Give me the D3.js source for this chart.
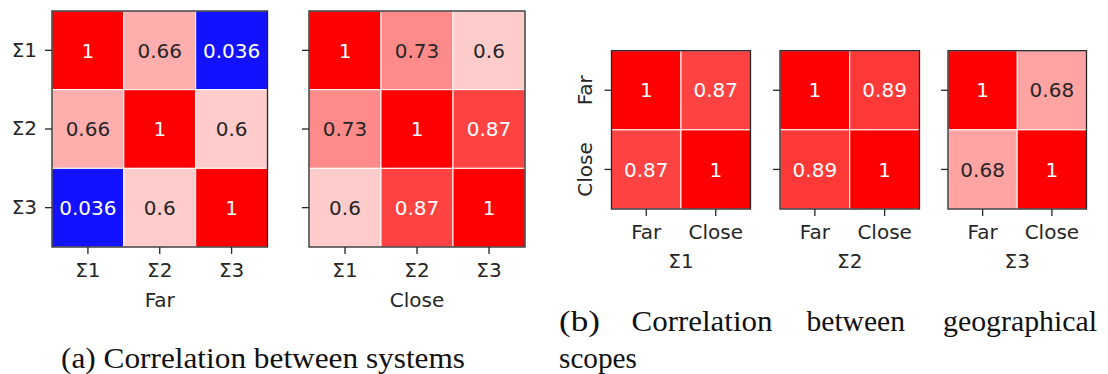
<!DOCTYPE html>
<html>
<head>
<meta charset="utf-8">
<script src="https://cdn.jsdelivr.net/npm/d3@7"></script>
<style>
  body { margin: 0; background: #fff; }
  svg { display: block; }
</style>
</head>
<body>
<svg id="chart" width="1108" height="374"></svg>
<script>
// Category labels
const systems = ["Σ1", "Σ2", "Σ3"];
const scopes = ["Far", "Close"];

// Correlation between systems, per geographical scope
const farCorr = [
  [1, 0.66, 0.036],
  [0.66, 1, 0.6],
  [0.036, 0.6, 1]
];
const closeCorr = [
  [1, 0.73, 0.6],
  [0.73, 1, 0.87],
  [0.6, 0.87, 1]
];

// Correlation between geographical scopes, per system
const sigma1Corr = [[1, 0.87], [0.87, 1]];
const sigma2Corr = [[1, 0.89], [0.89, 1]];
const sigma3Corr = [[1, 0.68], [0.68, 1]];

const FONT = "DejaVu Sans";
const INK = "#262626";
const svg = d3.select("#chart");

// Diverging blue-white-red colour map on [0, 1]
const color = d3.scaleLinear().domain([0, 0.5, 1]).range(["#0000ff", "#ffffff", "#ff0000"]);
const fmt = d3.format(".2~g");

function luminance(c) {
  const rgb = d3.rgb(c);
  const f = v => { v /= 255; return v <= 0.03928 ? v / 12.92 : Math.pow((v + 0.055) / 1.055, 2.4); };
  return 0.2126 * f(rgb.r) + 0.7152 * f(rgb.g) + 0.0722 * f(rgb.b);
}

const panels = [
  { values: farCorr,    labels: systems, title: "Far",   left: 52,    top: 11,   width: 215.5, height: 236,   yLabels: true,  rotateY: false },
  { values: closeCorr,  labels: systems, title: "Close", left: 309,   top: 11,   width: 216,   height: 236,   yLabels: false, rotateY: false },
  { values: sigma1Corr, labels: scopes,  title: "Σ1",    left: 611.5, top: 50.7, width: 139,   height: 158.3, yLabels: true,  rotateY: true },
  { values: sigma2Corr, labels: scopes,  title: "Σ2",    left: 780,   top: 50.7, width: 139.5, height: 158.3, yLabels: false, rotateY: false },
  { values: sigma3Corr, labels: scopes,  title: "Σ3",    left: 948,   top: 50.7, width: 138.5, height: 158.3, yLabels: false, rotateY: false }
];

panels.forEach(p => {
  const g = svg.append("g").attr("transform", `translate(${p.left},${p.top})`);
  const x = d3.scaleBand().domain(p.labels).range([0, p.width]);
  const y = d3.scaleBand().domain(p.labels).range([0, p.height]);

  const cells = [];
  p.values.forEach((row, i) => row.forEach((v, j) => cells.push({ r: p.labels[i], c: p.labels[j], v })));

  g.selectAll("rect.cell").data(cells).join("rect")
    .attr("class", "cell")
    .attr("x", d => x(d.c))
    .attr("y", d => y(d.r))
    .attr("width", x.bandwidth())
    .attr("height", y.bandwidth())
    .attr("fill", d => color(d.v))
    .attr("stroke", "#ffffff")
    .attr("stroke-width", 1);

  g.selectAll("text.annot").data(cells).join("text")
    .attr("class", "annot")
    .attr("x", d => x(d.c) + x.bandwidth() / 2)
    .attr("y", d => y(d.r) + y.bandwidth() / 2)
    .attr("dy", "0.36em")
    .attr("text-anchor", "middle")
    .attr("font-family", FONT)
    .attr("font-size", 20)
    .attr("fill", d => luminance(color(d.v)) > 0.408 ? INK : "#ffffff")
    .text(d => fmt(d.v));

  // frame
  g.append("rect")
    .attr("width", p.width).attr("height", p.height)
    .attr("fill", "none").attr("stroke", INK).attr("stroke-width", 1.3);

  // bottom axis
  const xa = g.append("g").attr("transform", `translate(0,${p.height})`)
    .call(d3.axisBottom(x).tickSize(7).tickPadding(9));
  xa.select(".domain").remove();
  xa.selectAll(".tick line").attr("stroke", INK).attr("stroke-width", 1.3);
  xa.selectAll(".tick text").attr("font-family", FONT).attr("font-size", 20).attr("fill", INK);

  // left axis
  const ya = g.append("g")
    .call(d3.axisLeft(y).tickSize(7).tickPadding(8).tickFormat(p.yLabels ? null : () => ""));
  ya.select(".domain").remove();
  ya.selectAll(".tick line").attr("stroke", INK).attr("stroke-width", 1.3);
  ya.selectAll(".tick text").attr("font-family", FONT).attr("font-size", 20).attr("fill", INK);
  if (p.rotateY) {
    ya.selectAll(".tick text")
      .attr("x", null).attr("dy", null)
      .attr("text-anchor", "middle")
      .attr("transform", "translate(-19.5,0) rotate(-90)");
  }

  // axis title
  g.append("text")
    .attr("x", p.width / 2)
    .attr("y", p.height + 59.5)
    .attr("text-anchor", "middle")
    .attr("font-family", FONT)
    .attr("font-size", 20)
    .attr("fill", INK)
    .text(p.title);
});

// Sub-figure captions
const SERIF = "Liberation Serif";
svg.append("text")
  .attr("x", 61).attr("y", 367.5)
  .attr("font-family", SERIF).attr("font-size", 29).attr("fill", "#111")
  .attr("textLength", 404).attr("lengthAdjust", "spacingAndGlyphs")
  .text("(a) Correlation between systems");

// caption (b): justified first line, then a short second line
const captionB = [
  { text: "(b)",          x: 559,   y: 330.5, w: 41 },
  { text: "Correlation",  x: 631.5, y: 330.5, w: 141 },
  { text: "between",      x: 806.5, y: 330.5, w: 98.5 },
  { text: "geographical", x: 943,   y: 330.5, w: 154 },
  { text: "scopes",       x: 559,   y: 367.5, w: 78 }
];
svg.selectAll("text.capb").data(captionB).join("text")
  .attr("class", "capb")
  .attr("x", d => d.x).attr("y", d => d.y)
  .attr("font-family", SERIF).attr("font-size", 29).attr("fill", "#111")
  .attr("textLength", d => d.w).attr("lengthAdjust", "spacingAndGlyphs")
  .text(d => d.text);
</script>
</body>
</html>
